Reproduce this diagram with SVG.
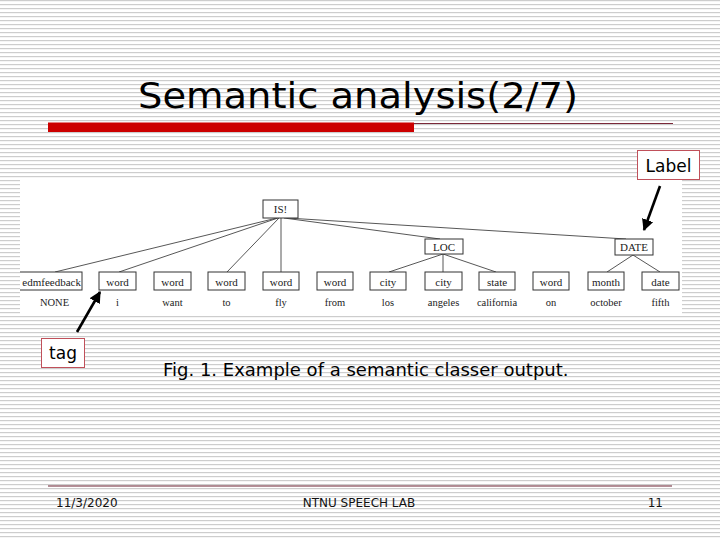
<svg xmlns="http://www.w3.org/2000/svg" width="720" height="540" viewBox="0 0 720 540">
<style>
.box{fill:#fff;stroke:#333;stroke-width:1}
.bt{font-family:"Liberation Serif","Times New Roman",serif;font-size:11px;fill:#222;text-anchor:middle}
.wt{font-family:"Liberation Serif","Times New Roman",serif;font-size:10.5px;fill:#222;text-anchor:middle}
.edge{stroke:#444;stroke-width:0.9;fill:none}
.arrow{stroke:#000;stroke-width:2.6;fill:none;marker-end:url(#ah)}
.note{fill:#fff;stroke:#c0505a;stroke-width:1}
.nt{font-family:"DejaVu Sans",Verdana,sans-serif;font-size:17px;fill:#000;text-anchor:middle}
.ft{font-family:"DejaVu Sans",Tahoma,sans-serif;font-size:12px;fill:#111}
</style>
<defs>
<pattern id="stripes" width="8" height="4" patternUnits="userSpaceOnUse">
<rect width="8" height="4" fill="#ffffff"/>
<rect y="0" width="8" height="1.2" fill="#cdcdcd"/>
</pattern>
<marker id="ah" viewBox="0 0 10 10" refX="9" refY="5" markerWidth="4.5" markerHeight="4.5" orient="auto" markerUnits="strokeWidth">
<path d="M0,0 L10,5 L0,10 z" fill="#000"/>
</marker>
<clipPath id="fig"><rect x="20" y="178" width="662" height="138"/></clipPath>
</defs>

<rect width="720" height="540" fill="url(#stripes)"/>

<g id="title">
<text x="138" y="108" font-family="DejaVu Sans,Tahoma,sans-serif" font-size="35" fill="#000" textLength="440" lengthAdjust="spacingAndGlyphs">Semantic analysis(2/7)</text>
<rect x="48" y="122.5" width="366" height="9.5" fill="#cc0000"/>
<line x1="414" y1="123.5" x2="673" y2="123.5" stroke="#7a2838" stroke-width="1"/>
</g>

<rect x="20" y="178" width="662" height="138" fill="#fff"/>

<g id="connectors" clip-path="url(#fig)">
<line class="edge" x1="277" y1="218" x2="55" y2="272"/>
<line class="edge" x1="278" y1="218" x2="119" y2="272"/>
<line class="edge" x1="279" y1="218" x2="227" y2="272"/>
<line class="edge" x1="281" y1="218" x2="281" y2="272"/>
<line class="edge" x1="284" y1="218" x2="440" y2="239"/>
<line class="edge" x1="287" y1="218" x2="626" y2="239"/>
<line class="edge" x1="443" y1="254" x2="389" y2="272"/>
<line class="edge" x1="443" y1="254" x2="443" y2="272"/>
<line class="edge" x1="443" y1="254" x2="496" y2="272"/>
<line class="edge" x1="633" y1="255" x2="607" y2="272"/>
<line class="edge" x1="633" y1="255" x2="660" y2="272"/>
</g>

<g id="tree" clip-path="url(#fig)">
<g id="n-is"><rect class="box" x="263" y="200" width="35" height="18"/><text class="bt" x="280.5" y="213">IS!</text></g>
<g id="n-loc"><rect class="box" x="425" y="239" width="38" height="15"/><text class="bt" x="444" y="251">LOC</text></g>
<g id="n-date"><rect class="box" x="615" y="239" width="38" height="16"/><text class="bt" x="634" y="251">DATE</text></g>

<g id="n-edm"><rect class="box" x="10" y="272" width="72" height="18"/><text class="bt" x="81" y="286" style="text-anchor:end">edmfeedback</text><text class="wt" x="54.5" y="306">NONE</text></g>
<g id="n-w1"><rect class="box" x="99" y="272" width="37" height="18"/><text class="bt" x="117.5" y="286">word</text><text class="wt" x="117.5" y="306">i</text></g>
<g id="n-w2"><rect class="box" x="154" y="272" width="37" height="18"/><text class="bt" x="172.5" y="286">word</text><text class="wt" x="172.5" y="306">want</text></g>
<g id="n-w3"><rect class="box" x="208" y="272" width="37" height="18"/><text class="bt" x="226.5" y="286">word</text><text class="wt" x="226.5" y="306">to</text></g>
<g id="n-w4"><rect class="box" x="263" y="272" width="36" height="18"/><text class="bt" x="281" y="286">word</text><text class="wt" x="281" y="306">fly</text></g>
<g id="n-w5"><rect class="box" x="317" y="272" width="36" height="18"/><text class="bt" x="335" y="286">word</text><text class="wt" x="335" y="306">from</text></g>
<g id="n-c1"><rect class="box" x="370" y="272" width="36" height="18"/><text class="bt" x="388" y="286">city</text><text class="wt" x="388" y="306">los</text></g>
<g id="n-c2"><rect class="box" x="425" y="272" width="37" height="18"/><text class="bt" x="443.5" y="286">city</text><text class="wt" x="443.5" y="306">angeles</text></g>
<g id="n-st"><rect class="box" x="479" y="272" width="36" height="18"/><text class="bt" x="497" y="286">state</text><text class="wt" x="497" y="306">california</text></g>
<g id="n-w6"><rect class="box" x="533" y="272" width="36" height="18"/><text class="bt" x="551" y="286">word</text><text class="wt" x="551" y="306">on</text></g>
<g id="n-mo"><rect class="box" x="588" y="272" width="36" height="18"/><text class="bt" x="606" y="286">month</text><text class="wt" x="606" y="306">october</text></g>
<g id="n-da"><rect class="box" x="642" y="272" width="37" height="18"/><text class="bt" x="660.5" y="286">date</text><text class="wt" x="660.5" y="306">fifth</text></g>
</g>

<g id="annotations">
<g id="label-note"><rect class="note" x="637.5" y="150.5" width="62" height="29"/><text class="nt" x="668.5" y="172">Label</text></g>
<g id="tag-note"><rect class="note" x="41.5" y="338.5" width="43" height="29"/><text class="nt" x="63" y="359">tag</text></g>
</g>
<g id="arrows">
<line class="arrow" x1="660" y1="186" x2="644" y2="230"/>
<line class="arrow" x1="77" y1="332" x2="100" y2="292"/>
</g>

<text id="caption" x="163" y="376" font-family="DejaVu Sans,Verdana,sans-serif" font-size="18" fill="#000">Fig. 1. Example of a semantic classer output.</text>

<g id="footer">
<line x1="48" y1="486" x2="672" y2="486" stroke="#6a2030" stroke-width="1.2"/>
<text class="ft" x="56" y="507">11/3/2020</text>
<text class="ft" x="359" y="507" text-anchor="middle">NTNU SPEECH LAB</text>
<text class="ft" x="663" y="507" text-anchor="end">11</text>
</g>
</svg>
